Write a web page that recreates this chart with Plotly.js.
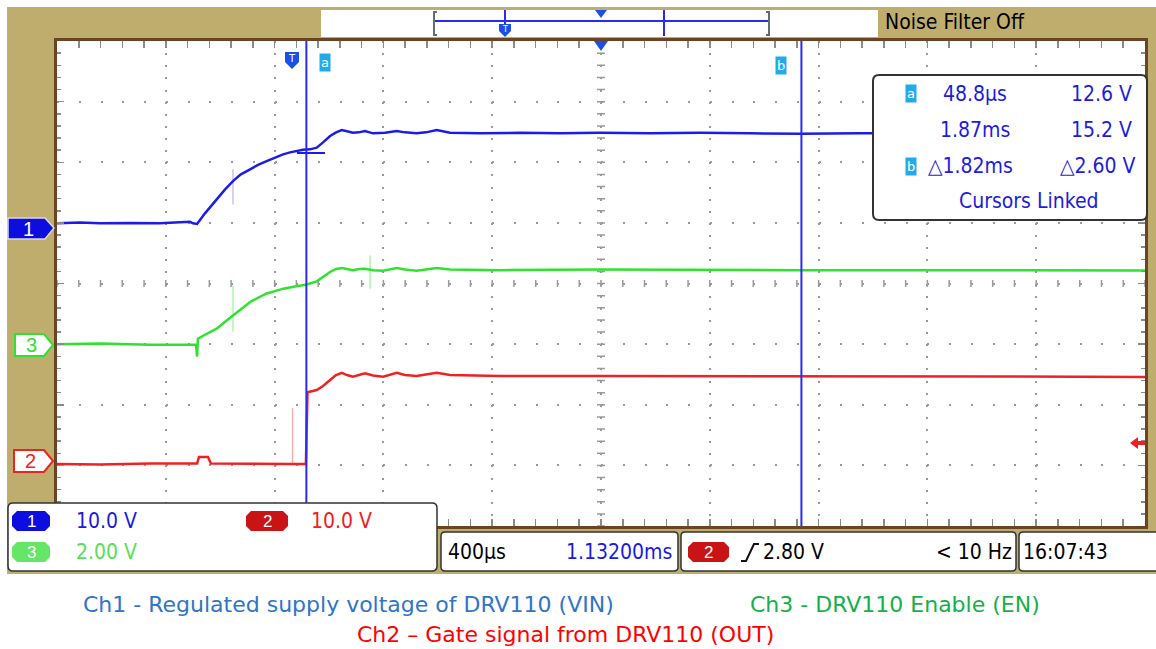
<!DOCTYPE html>
<html><head><meta charset="utf-8">
<script src="https://cdn.plot.ly/plotly-3.0.1.min.js"></script>
<style>html,body{margin:0;padding:0;background:#fff;}#chart{width:1156px;height:649px;}</style>
</head><body><div id="chart"></div>
<script>
// ---- data (time in ms, voltage in V) ----
const ch1Time = [-0.868,-0.783,-0.710,-0.600,-0.490,-0.416,-0.379,-0.368,-0.353,-0.324,-0.281,-0.250,-0.221,-0.192,-0.158,-0.129,-0.097,-0.067,-0.037,-0.011,0.013,0.036,0.062,0.087,0.110,0.136,0.158,0.179,0.198,0.220,0.242,0.264,0.294,0.338,0.381,0.411,0.454,0.489,0.528,0.577,0.687,0.834,0.981,1.128,1.312,1.496,1.680,1.864,2.084,2.599,3.132];
const ch1Volts = [-0.08,0.08,-0.08,0,-0.08,0.08,0.17,-0.08,-0.17,1.57,3.88,5.53,6.90,8.00,8.83,9.57,10.20,10.81,11.30,11.63,11.85,12.05,12.13,12.41,13.28,14.32,14.93,15.31,15.10,14.88,14.93,15.15,14.77,14.85,15.15,14.93,14.77,14.93,15.31,14.88,14.77,14.85,14.77,14.85,14.77,14.85,14.77,14.69,14.77,14.77,14.77];
const ch3Time = [-0.868,-0.710,-0.526,-0.379,-0.357,-0.353,-0.350,-0.324,-0.281,-0.250,-0.220,-0.192,-0.158,-0.129,-0.097,-0.067,-0.036,0.007,0.050,0.087,0.110,0.136,0.158,0.179,0.198,0.220,0.242,0.264,0.294,0.331,0.381,0.411,0.454,0.489,0.528,0.577,0.761,1.128,1.496,1.864,2.231,2.599,3.132];
const ch3Volts = [0,0.02,-0.02,0,-0.02,-0.41,0.18,0.31,0.51,0.74,0.95,1.17,1.39,1.53,1.67,1.75,1.83,1.90,1.97,2.07,2.23,2.38,2.48,2.51,2.48,2.44,2.48,2.49,2.44,2.42,2.51,2.46,2.42,2.46,2.51,2.46,2.44,2.46,2.44,2.44,2.44,2.43,2.43];
const ch2Time = [-0.868,-0.710,-0.526,-0.379,-0.353,-0.346,-0.313,-0.302,-0.158,-0.011,0.047,0.053,0.087,0.110,0.136,0.158,0.179,0.198,0.220,0.242,0.264,0.294,0.331,0.381,0.411,0.454,0.489,0.528,0.577,0.761,1.128,1.496,1.864,2.231,2.599,3.132];
const ch2Volts = [0.21,0.13,0.30,0.21,0.30,1.37,1.37,0.30,0.21,0.21,0.21,12.05,12.43,13.09,14.08,14.90,15.28,14.90,14.62,14.90,15.18,14.82,14.62,15.28,14.90,14.74,14.98,15.28,14.90,14.74,14.74,14.74,14.74,14.65,14.65,14.57];
const ch1GlitchTime = [-0.221,-0.221];
const ch1GlitchVolts = [8.83,3.05];
const ch3GlitchTime = [-0.221,-0.221,null,0.283,0.283];
const ch3GlitchVolts = [1.93,0.41,null,2.92,1.83];
const ch2GlitchTime = [-0.002,-0.002];
const ch2GlitchVolts = [9.46,0.2];
const cursorA = 0.0488, cursorB = 1.8688;
const readoutLabels = ['48.8\u00b5s','12.6 V','1.87ms','15.2 V','\u25b31.82ms','\u25b32.60 V','Cursors Linked'];
const statusLabels = {ch1:'10.0 V', ch2:'10.0 V', ch3:'2.00 V', timebase:'400\u00b5s', position:'1.13200ms', trig:'2.80 V', freq:'< 10 Hz', clock:'16:07:43', noise:'Noise Filter Off'};
const legendLabels = ['Ch1 - Regulated supply voltage of DRV110 (VIN)','Ch3 - DRV110 Enable (EN)','Ch2 \u2013 Gate signal from DRV110 (OUT)'];

// ---- geometry helpers (pixel -> paper) ----
const L=57,R=1145,T=41,B=526,W=R-L,H=B-T;
const px=x=>(x-L)/W, py=y=>(B-y)/H;
const NARROW='"Liberation Sans Narrow","DejaVu Sans Condensed","Roboto Condensed","Liberation Sans",Arial,sans-serif';
const BLUE='#1c1ce6', GREEN='#2ee22e', RED='#ee2222', TAN='#bfad6d', BROWN='#6b4423';
function P(x,y){return px(x)+','+py(y);}
function poly(pts){return pts.map((p,i)=>(i?'L':'M')+P(p[0],p[1])).join(' ')+' Z';}
function rrect(x0,y0,x1,y1,r){
  return 'M'+P(x0+r,y0)+' L'+P(x1-r,y0)+' Q'+P(x1,y0)+' '+P(x1,y0+r)+' L'+P(x1,y1-r)+' Q'+P(x1,y1)+' '+P(x1-r,y1)+
  ' L'+P(x0+r,y1)+' Q'+P(x0,y1)+' '+P(x0,y1-r)+' L'+P(x0,y0+r)+' Q'+P(x0,y0)+' '+P(x0+r,y0)+' Z';
}
function chamf(x0,y0,x1,y1,c){return poly([[x0+c,y0],[x1-c,y0],[x1,y0+c],[x1,y1-c],[x1-c,y1],[x0+c,y1],[x0,y1-c],[x0,y0+c]]);}
const shapes=[];
function S(path,fill,lc,lw,layer){shapes.push({type:'path',xref:'paper',yref:'paper',path:path,fillcolor:fill||'rgba(0,0,0,0)',line:{color:lc||'rgba(0,0,0,0)',width:lc?(lw||1):0},layer:layer||'above'});}
function seg(x0,y0,x1,y1,c,w){shapes.push({type:'line',xref:'paper',yref:'paper',x0:px(x0),y0:py(y0),x1:px(x1),y1:py(y1),line:{color:c,width:w||1},layer:'above'});}

// tan frame
S(poly([[7,7],[1160,7],[1160,39],[7,39]]),TAN,null,0,'below');
S(poly([[7,39],[55,39],[55,574],[7,574]]),TAN,null,0,'below');
S(poly([[1147,39],[1160,39],[1160,574],[1147,574]]),TAN,null,0,'below');
S(poly([[55,528],[1147,528],[1147,574],[55,574]]),TAN,null,0,'below');

// center graticule ticks
let cp='';
for(let k=0;k<=50;k++){const x=L+k*W/50;cp+='M'+P(x,280)+' L'+P(x,287)+' ';}
for(let j=0;j<=40;j++){const y=T+j*H/40;cp+='M'+P(597,y)+' L'+P(605,y)+' ';}
S(cp,null,'#9a9a9a',1.5,'below');

// cursors
shapes.push({type:'line',xref:'x',yref:'paper',x0:cursorA,x1:cursorA,y0:0,y1:1,line:{color:'#2a2af2',width:2}});
shapes.push({type:'line',xref:'x',yref:'paper',x0:cursorB,x1:cursorB,y0:0,y1:1,line:{color:'#2a2af2',width:2}});
seg(297,153,325,153,BLUE,2);

// top bar
S(poly([[321,10],[878,10],[878,37],[321,37]]),'#ffffff',null,0,'above');
S('M'+P(437,12)+' L'+P(434,12)+' L'+P(434,35)+' L'+P(437,35),null,'#5f6f6f',2);
S('M'+P(766,12)+' L'+P(769,12)+' L'+P(769,35)+' L'+P(766,35),null,'#5f6f6f',2);
seg(435,21,768,21,'#2a2af2',2);
seg(505,10,505,26,'#2a2af2',2);
seg(664,10,664,36,'#2a2af2',2);
S(poly([[499,24],[511,24],[511,31],[505,37],[499,31]]),'#1a50e8',null);
S(poly([[595,10],[607,10],[601,18]]),'#1a50e8',null);
// in-plot markers
S(poly([[594,41],[608,41],[601,51]]),'#1a50e8',null);
S(poly([[285,52],[299,52],[299,62],[292,69],[285,62]]),'#1a50e8',null);
// trigger level arrow
S(poly([[1130,443],[1138,437],[1138,441],[1145,441],[1145,445],[1138,445],[1138,449]]),RED,null);

// channel markers
S(poly([[8,218],[45,218],[54,228],[45,239],[8,239]]),'#0d0de0','#d8d8f0',1.5);
S(poly([[15,334],[44,334],[53,345],[44,356],[15,356]]),'#ffffff',GREEN,2);
S(poly([[14,450],[44,450],[53,461],[44,472],[14,472]]),'#ffffff',RED,2);

// readout box
S(rrect(873,75,1147,220,6),'#ffffff','#333333',2);
// status boxes
S(rrect(8,503,437,571,5),'#ffffff','#333333',1.5);
S(rrect(441,532,678,571,4),'#ffffff','#333333',1.5);
S(rrect(681,532,1016,571,4),'#ffffff','#333333',1.5);
S(rrect(1019,532,1175,571,4),'#ffffff','#333333',1.5);
// badges
S(chamf(12,511,50,531,5),'#0d0de0',null);
S(chamf(246,511,288,531,5),'#c81414',null);
S(chamf(12,542,50,562,5),'#66e666',null);
S(chamf(688,542,729,562,5),'#c81414',null);
// rising edge symbol
S('M'+P(741,561)+' L'+P(746,561)+' L'+P(754,544)+' L'+P(759,544),null,'#111111',2);

// ---- annotations ----
const anns=[];
function A(text,x,y,o){o=o||{};anns.push({text:text,xref:'paper',yref:'paper',x:px(x),y:py(y),showarrow:false,
  xanchor:o.xa||'center',yanchor:'middle',font:{family:o.fam||NARROW,size:o.size||21,color:o.color||'#000'},
  bgcolor:o.bg,borderpad:o.pad||0});}
A(statusLabels.noise,884,22,{xa:'left',size:21});
const RB='#1c1cdc';
A(readoutLabels[0],975,94,{color:RB});
A(readoutLabels[1],1101,94,{color:RB});
A(readoutLabels[2],975,130,{color:RB});
A(readoutLabels[3],1101,130,{color:RB});
A(readoutLabels[4],970,166,{color:RB});
A(readoutLabels[5],1098,166,{color:RB});
A(readoutLabels[6],1029,201,{color:RB});
A('a',911,94,{color:'#ffffff',size:13,bg:'#22aaee',pad:1,fam:'DejaVu Sans'});
A('b',911,166,{color:'#ffffff',size:13,bg:'#22aaee',pad:1,fam:'DejaVu Sans'});
A('a',325,63,{color:'#ffffff',size:13,bg:'#22aaee',pad:1,fam:'DejaVu Sans'});
A('b',781,65,{color:'#ffffff',size:13,bg:'#22aaee',pad:1,fam:'DejaVu Sans'});
A('T',292,59,{color:'#ffffff',size:10,fam:'DejaVu Sans'});
A('T',505,29,{color:'#ffffff',size:8,fam:'DejaVu Sans'});
A('1',28,229,{color:'#ffffff',size:20,fam:'Liberation Sans'});
A('3',31,345,{color:GREEN,size:20,fam:'Liberation Sans'});
A('2',30,461,{color:RED,size:20,fam:'Liberation Sans'});
A('1',31,521,{color:'#ffffff',size:17,fam:'Liberation Sans'});
A('2',267,521,{color:'#ffffff',size:17,fam:'Liberation Sans'});
A('3',31,552,{color:'#ffffff',size:17,fam:'Liberation Sans'});
A('2',708,552,{color:'#ffffff',size:17,fam:'Liberation Sans'});
A(statusLabels.ch1,75,521,{xa:'left',color:'#1a1ae0'});
A(statusLabels.ch2,310,521,{xa:'left',color:'#ee2020'});
A(statusLabels.ch3,75,552,{xa:'left',color:'#55e055'});
A(statusLabels.timebase,447,552,{xa:'left'});
A(statusLabels.position,673,552,{xa:'right',color:'#1a1ae0'});
A(statusLabels.trig,762,552,{xa:'left'});
A(statusLabels.freq,1013,552,{xa:'right'});
A(statusLabels.clock,1022,552,{xa:'left'});
A(legendLabels[0],348,604,{fam:'DejaVu Sans',size:22,color:'#2f75c8'});
A(legendLabels[1],895,604,{fam:'DejaVu Sans',size:22,color:'#14b04a'});
A(legendLabels[2],565,634,{fam:'DejaVu Sans',size:22,color:'#ff0000'});

// ---- traces ----
const traces=[
 {x:ch1GlitchTime,y:ch1GlitchVolts,yaxis:'y',mode:'lines',line:{color:'rgba(120,120,240,0.45)',width:1.5},hoverinfo:'skip'},
 {x:ch3GlitchTime,y:ch3GlitchVolts,yaxis:'y3',mode:'lines',line:{color:'rgba(80,230,80,0.45)',width:1.5},hoverinfo:'skip'},
 {x:ch2GlitchTime,y:ch2GlitchVolts,yaxis:'y2',mode:'lines',line:{color:'rgba(240,80,80,0.45)',width:1.5},hoverinfo:'skip'},
 {name:'Ch1',x:ch1Time,y:ch1Volts,yaxis:'y',mode:'lines',line:{color:BLUE,width:2.5}},
 {name:'Ch3',x:ch3Time,y:ch3Volts,yaxis:'y3',mode:'lines',line:{color:GREEN,width:2.5}},
 {name:'Ch2',x:ch2Time,y:ch2Volts,yaxis:'y2',mode:'lines',line:{color:RED,width:2.5}}
];
const layout={
 width:1156,height:649,margin:{l:L,r:1156-R,t:T,b:649-B,pad:0},
 paper_bgcolor:'#ffffff',plot_bgcolor:'#ffffff',showlegend:false,
 xaxis:{range:[-0.868,3.132],showticklabels:false,tick0:-0.868,dtick:0.4,ticks:'inside',ticklen:7,tickwidth:1.5,tickcolor:'#8a8a8a',
   showgrid:true,gridcolor:'#9a9a9a',gridwidth:2,griddash:'2px,10.125px',zeroline:false,showline:true,linecolor:BROWN,linewidth:3,mirror:'allticks',
   minor:{tick0:-0.868,dtick:0.08,ticks:'inside',ticklen:4,tickwidth:1.5,tickcolor:'#8a8a8a',showgrid:false},fixedrange:true},
 yaxis:{range:[-50,30],showticklabels:false,tick0:-50,dtick:10,ticks:'inside',ticklen:7,tickwidth:1.5,tickcolor:'#8a8a8a',
   showgrid:true,gridcolor:'#9a9a9a',gridwidth:2,griddash:'2px,19.76px',zeroline:false,showline:true,linecolor:BROWN,linewidth:3,mirror:'allticks',
   minor:{tick0:-50,dtick:2,ticks:'inside',ticklen:4,tickwidth:1.5,tickcolor:'#8a8a8a',showgrid:false},fixedrange:true},
 yaxis2:{overlaying:'y',range:[-10,70],visible:false,fixedrange:true},
 yaxis3:{overlaying:'y',range:[-6,10],visible:false,fixedrange:true},
 shapes:shapes,annotations:anns
};
Plotly.newPlot('chart',traces,layout,{staticPlot:true,displayModeBar:false});
</script></body></html>
